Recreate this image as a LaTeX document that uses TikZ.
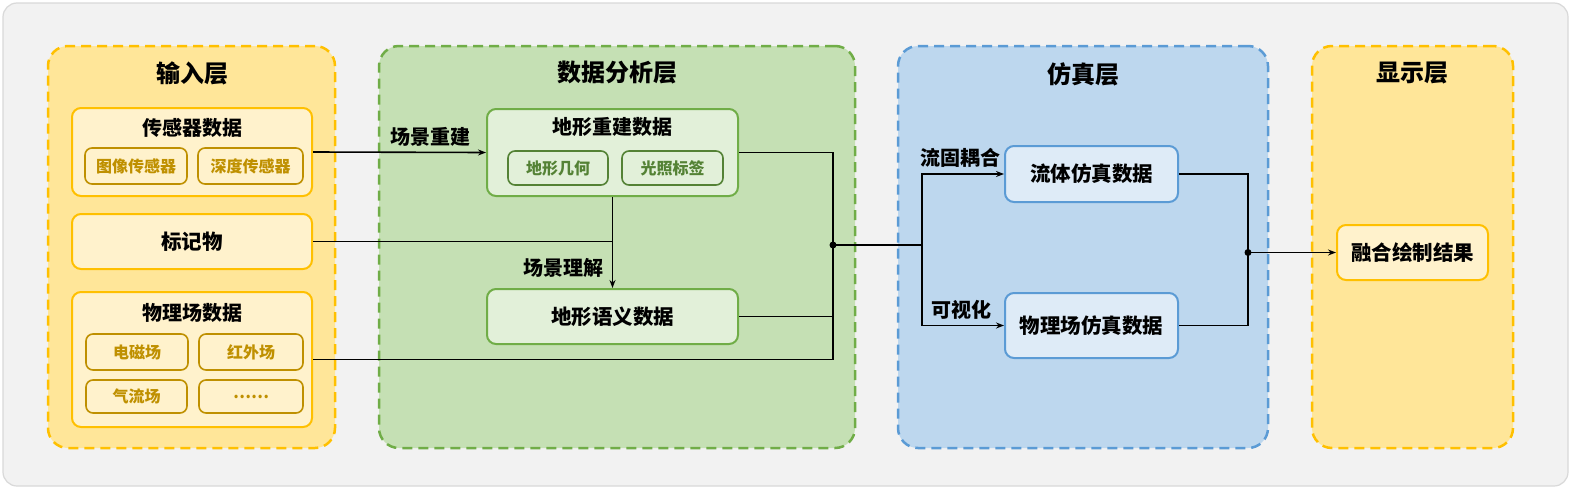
\documentclass[tikz,border=0pt]{standalone}
\usepackage{fontspec}
\setmainfont{Noto Sans CJK SC}
\usetikzlibrary{arrows.meta}
\definecolor{bgfill}{HTML}{F2F2F2}
\definecolor{bgline}{HTML}{D9D9D9}
\definecolor{yfill}{HTML}{FFE699}
\definecolor{yline}{HTML}{FFC000}
\definecolor{yin}{HTML}{FFF2CC}
\definecolor{ysub}{HTML}{BF9000}
\definecolor{gfill}{HTML}{C5E0B4}
\definecolor{gline}{HTML}{70AD47}
\definecolor{gin}{HTML}{E2F0D9}
\definecolor{gsub}{HTML}{548235}
\definecolor{bfill}{HTML}{BDD7EE}
\definecolor{bline}{HTML}{5B9BD5}
\definecolor{bin}{HTML}{DEEBF7}
\tikzset{
  layer/.style={rounded corners=20, line width=2.5, dash pattern=on 10 off 6},
  ylayer/.style={layer, fill=yfill, draw=yline},
  glayer/.style={layer, fill=gfill, draw=gline},
  blayer/.style={layer, fill=bfill, draw=bline},
  ltitle/.style={font=\fontsize{24}{26}\selectfont\bfseries},
  box/.style={rounded corners=9, line width=2, inner sep=0, font=\fontsize{20.5}{22}\selectfont\bfseries},
  ybox/.style={box, fill=yin, draw=yline},
  gbox/.style={box, fill=gin, draw=gline},
  bbox/.style={box, fill=bin, draw=bline},
  sub/.style={rounded corners=7, line width=1.6, inner sep=0, font=\fontsize{16}{18}\selectfont\bfseries},
  ysubbox/.style={sub, fill=yin, draw=ysub, text=ysub},
  gsubbox/.style={sub, fill=gin, draw=gsub, text=gsub},
  btitle/.style={font=\fontsize{20}{22}\selectfont\bfseries},
  lbl/.style={font=\fontsize{20}{22}\selectfont\bfseries},
  conn/.style={line width=1.6, draw=black},
  arr/.style={conn, -{Stealth[length=8, width=6]}},
  dot/.style={circle, fill=black, inner sep=0, minimum size=7}
}
\begin{document}
\begin{tikzpicture}[x=1pt, y=-1pt]
\useasboundingbox (0,0) rectangle (1574,490);
\fill[white] (0,0) rectangle (1574,490);
\draw[fill=bgfill, draw=bgline, line width=1.2, rounded corners=14] (3,3) rectangle (1568,486);

% layers
\node[ylayer, minimum width=287, minimum height=402] (Lin) at (191.5,247) {};
\node[glayer, minimum width=476, minimum height=402] (Ldata) at (617,247) {};
\node[blayer, minimum width=370, minimum height=402] (Lsim) at (1083,247) {};
\node[ylayer, minimum width=201, minimum height=402] (Ldisp) at (1412.5,247) {};
\node[ltitle] (Tin) at (192,73) {输入层};
\node[ltitle] (Tdata) at (617,73) {数据分析层};
\node[ltitle] (Tsim) at (1083,74) {仿真层};
\node[ltitle] (Tdisp) at (1412,73) {显示层};

% input layer
\node[ybox, minimum width=240, minimum height=88] (sensor) at (192,152) {};
\node[btitle] (sensorT) at (192,128) {传感器数据};
\node[ysubbox, minimum width=102, minimum height=36] (img) at (136,166) {图像传感器};
\node[ysubbox, minimum width=105, minimum height=36] (depth) at (250.5,166) {深度传感器};
\node[ybox, minimum width=240, minimum height=55] (marker) at (192,241.5) {标记物};
\node[ybox, minimum width=240, minimum height=135] (phys) at (192,359.5) {};
\node[btitle] (physT) at (192,313) {物理场数据};
\node[ysubbox, minimum width=102, minimum height=36] (em) at (137,352) {电磁场};
\node[ysubbox, minimum width=104, minimum height=36] (ir) at (251,352) {红外场};
\node[ysubbox, minimum width=101, minimum height=33] (air) at (136.5,396.5) {气流场};
\node[ysubbox, minimum width=104, minimum height=33] (more) at (251,396.5) {……};

% data layer
\node[gbox, minimum width=251, minimum height=87] (recon) at (612.5,152.5) {};
\node[btitle] (reconT) at (612.5,127) {地形重建数据};
\node[gsubbox, minimum width=100, minimum height=34] (geo) at (558,168) {地形几何};
\node[gsubbox, minimum width=101, minimum height=34] (light) at (672.5,168) {光照标签};
\node[gbox, minimum width=251, minimum height=55] (sem) at (612.5,316.5) {地形语义数据};

% sim layer
\node[bbox, minimum width=173, minimum height=56] (fluid) at (1091.5,174) {流体仿真数据};
\node[bbox, minimum width=173, minimum height=65] (psim) at (1091.5,325.5) {物理场仿真数据};

% display
\node[ybox, minimum width=151, minimum height=55] (result) at (1412.5,252.5) {融合绘制结果};

% coordinates
\coordinate (J1) at (833,245);
\coordinate (S) at (922,245);
\coordinate (J2) at (1248,252.5);

% connectors
\draw[arr] (sensor.east) -- (recon.west);
\draw[conn] (marker.east) -- (marker.east -| recon.south);
\draw[arr] (recon.south) -- (sem.north);
\draw[conn] (recon.east) -| (J1);
\draw[conn] (sem.east) -| (J1);
\draw[conn] (phys.east) -| (J1);
\node[dot] (d1) at (J1) {};
\draw[conn] (J1) -- (S);
\draw[arr] (S) |- (fluid.west);
\draw[arr] (S) |- (psim.west);
\draw[conn] (fluid.east) -| (J2);
\draw[conn] (psim.east) -| (J2);
\node[dot] (d2) at (J2) {};
\draw[arr] (J2) -- (result.west);

% labels
\node[lbl] (l1) at (430,137) {场景重建};
\node[lbl] (l2) at (563,268) {场景理解};
\node[lbl] (l3) at (960,158) {流固耦合};
\node[lbl] (l4) at (961,310) {可视化};
\end{tikzpicture}
\end{document}
